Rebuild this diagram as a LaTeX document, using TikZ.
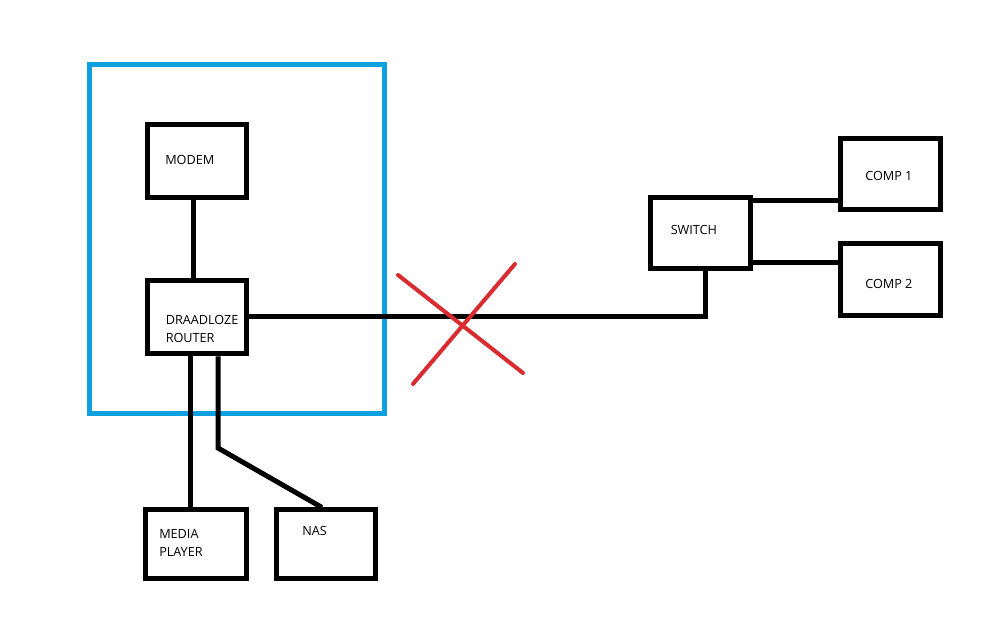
\documentclass[tikz,border=0pt]{standalone}
\usepackage{fontspec}
\setmainfont{Open Sans}
\definecolor{paintblue}{HTML}{0FA0E0}
\definecolor{paintred}{HTML}{D92B30}
\begin{document}
\begin{tikzpicture}[x=0.75pt,y=-0.75pt,
  box/.style={draw, line width=3.75pt, line join=miter, inner sep=0pt},
  wire/.style={line width=3.75pt, line join=miter},
  lbl/.style={anchor=west, inner sep=0pt, align=left, font=\fontsize{9.5}{13.5}\selectfont},
  group/.style={draw=paintblue, line width=3.75pt, line join=miter, inner sep=0pt},
  cross/.style={draw=paintred, line width=3pt, line cap=round}]
\useasboundingbox[fill=white] (0,0) rectangle (1008,630);
% blue frame
\node[group, minimum width=295*0.75pt, minimum height=349*0.75pt] (wifi) at (236.5,239.5) {};
% boxes
\node[box, minimum width=99.5*0.75pt, minimum height=73*0.75pt] (modem) at (196.75,161.5) {};
\node[box, minimum width=99.5*0.75pt, minimum height=73.5*0.75pt] (router) at (196.75,317.25) {};
\node[box, minimum width=101*0.75pt, minimum height=69*0.75pt] (media) at (196,544.5) {};
\node[box, minimum width=99.5*0.75pt, minimum height=69*0.75pt] (nas) at (325.75,544.5) {};
\node[box, minimum width=100*0.75pt, minimum height=71.5*0.75pt] (switch) at (700,233.25) {};
\node[box, minimum width=100.5*0.75pt, minimum height=71.5*0.75pt] (comp1) at (890.25,174.25) {};
\node[box, minimum width=100.5*0.75pt, minimum height=72*0.75pt] (comp2) at (890.25,279.5) {};
% labels
\node[lbl] (modemtxt) at (165,160) {MODEM};
\node[lbl] (routertxt) at (165.5,329) {DRAADLOZE\\ROUTER};
\node[lbl] (mediatxt) at (159,543) {MEDIA\\PLAYER};
\node[lbl] (nastxt) at (302,530.5) {NAS};
\node[lbl] (switchtxt) at (670.5,230) {SWITCH};
\node[lbl] (comp1txt) at (865,176) {COMP 1};
\node[lbl] (comp2txt) at (865,284) {COMP 2};
% connectors
\draw[wire] (modem.south -| 193,0) -- (router.north -| 193,0);
\draw[wire] (router.east |- 0,317) -| (switch.south -| 705,0);
\draw[wire] (switch.east |- 0,201) -- (comp1.west |- 0,201);
\draw[wire] (switch.east |- 0,263) -- (comp2.west |- 0,263);
\draw[wire] (router.south -| 190,0) -- (media.north -| 190,0);
\draw[wire] (router.south -| 218,0) -- (218,448) -- (nas.north -| 322,0);
% red cross
\draw[cross] (398,275) -- (523,373);
\draw[cross] (515,264) -- (413,384);
\end{tikzpicture}
\end{document}
